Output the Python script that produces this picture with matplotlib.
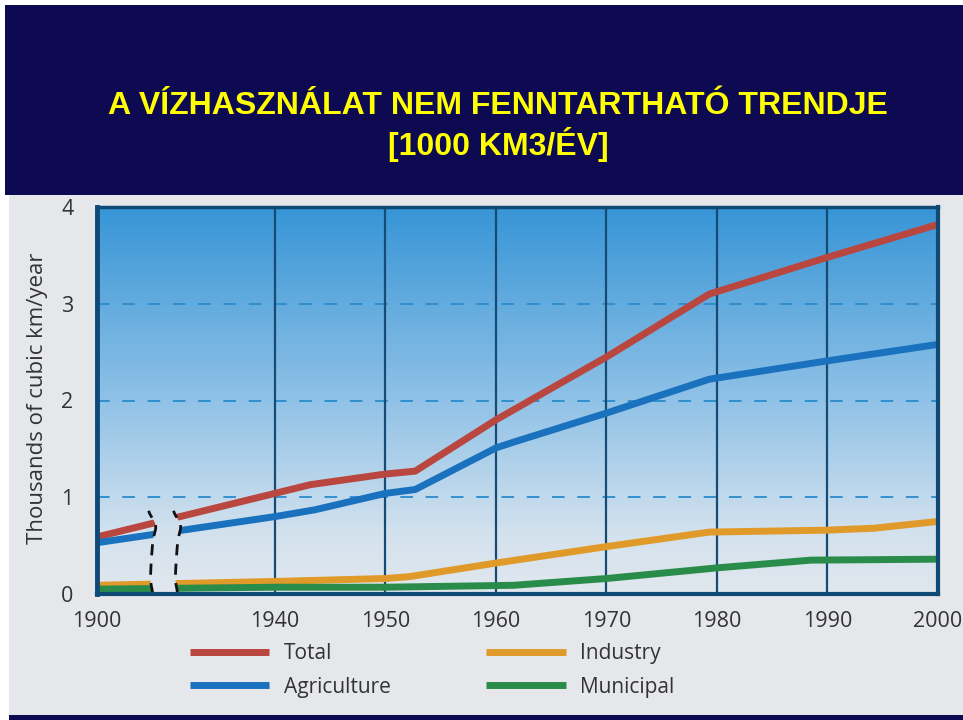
import numpy as np
import matplotlib
matplotlib.use("Agg")
import matplotlib.pyplot as plt
from matplotlib.patches import Rectangle, Polygon
from matplotlib.colors import LinearSegmentedColormap

# ---------------- data ----------------
title_lines = ["A VÍZHASZNÁLAT NEM FENNTARTHATÓ TRENDJE", "[1000 KM3/ÉV]"]
ylabel = "Thousands of cubic km/year"
xtick_years = [1900, 1940, 1950, 1960, 1970, 1980, 1990, 2000]
ytick_vals = [0, 1, 2, 3, 4]
series_names = ["Total", "Agriculture", "Industry", "Municipal"]

total_years = [1900, 1940, 1943.2, 1950, 1952.7, 1960, 1970, 1979.3, 1990, 2000]
total_vals = [0.59, 1.04, 1.13, 1.24, 1.27, 1.80, 2.45, 3.10, 3.48, 3.82]

agri_years = [1900, 1940, 1943.6, 1950, 1952.7, 1960, 1961.6, 1970, 1979.3, 1990, 2000]
agri_vals = [0.53, 0.80, 0.87, 1.04, 1.08, 1.51, 1.57, 1.87, 2.22, 2.41, 2.58]

ind_years = [1900, 1940, 1950, 1952.2, 1960, 1970, 1979.3, 1990, 1994.2, 2000]
ind_vals = [0.09, 0.13, 0.16, 0.18, 0.32, 0.49, 0.64, 0.66, 0.68, 0.75]

mun_years = [1900, 1940, 1950, 1961.6, 1970, 1980, 1988.5, 2000]
mun_vals = [0.05, 0.07, 0.07, 0.09, 0.16, 0.27, 0.35, 0.36]

colors = {"Total": "#b9463f", "Agriculture": "#1a72bf",
          "Industry": "#e09a2a", "Municipal": "#2a8c4a"}

# ---------------- broken x scale ----------------
P = 1.61  # width of the compressed 1900-1940 section, in decade units


def fwd(x):
    x = np.asarray(x, dtype=float)
    return np.where(x < 1940, (x - 1900) / 40.0 * P, P + (x - 1940) / 10.0)


def inv(u):
    u = np.asarray(u, dtype=float)
    return np.where(u < P, 1900 + u / P * 40.0, 1940 + (u - P) * 10.0)


fig = plt.figure(figsize=(9.63, 7.2), dpi=100)
fig.patch.set_facecolor("white")

W, H = 963.0, 720.0
# scanned page background
fig.add_artist(Rectangle((9 / W, 0), 1 - 9 / W, 1 - 195 / H, transform=fig.transFigure,
                         facecolor="#e5e7eb", edgecolor="none", zorder=0))
# bottom navy strip
fig.add_artist(Rectangle((9 / W, 0), 1 - 9 / W, 5 / H, transform=fig.transFigure,
                         facecolor="#0d0a52", edgecolor="none", zorder=1))
# header
fig.add_artist(Rectangle((5 / W, 1 - 195 / H), 1 - 5 / W, 190 / H, transform=fig.transFigure,
                         facecolor="#0d0a52", edgecolor="none", zorder=1))
fig.text(0.517, 1 - 106 / H, title_lines[0], ha="center", va="center", color="#ffff00",
         fontsize=23, fontweight="bold", family="Liberation Sans", zorder=2)
fig.text(0.517, 1 - 145 / H, title_lines[1], ha="center", va="center", color="#ffff00",
         fontsize=23, fontweight="bold", family="Liberation Sans", zorder=2)

ax = fig.add_axes([97 / W, 1 - 594 / H, (938 - 97) / W, (594 - 207) / H])
ax.set_zorder(3)
ax.set_xscale("function", functions=(fwd, inv))

# gradient background
cmap = LinearSegmentedColormap.from_list(
    "bg", [(0.0, "#e1e7ed"), (0.15, "#d4e2ee"), (0.5, "#90c2e7"), (1.0, "#3795d6")])
grad = np.linspace(0, 1, 256).reshape(-1, 1)
ax.imshow(grad, cmap=cmap, extent=[0, 1, 0, 1], transform=ax.transAxes,
          aspect="auto", origin="lower", zorder=0, interpolation="bilinear")

# grid
for yv in ytick_vals[1:-1]:
    ax.axhline(yv, color="#2a8bcc", lw=1.3, dashes=(7, 7), zorder=1)
for xv in xtick_years[1:-1]:
    ax.axvline(xv, color="#154b75", lw=1.6, zorder=1)

# series
for name, yrs, vals in [("Total", total_years, total_vals),
                        ("Agriculture", agri_years, agri_vals),
                        ("Industry", ind_years, ind_vals),
                        ("Municipal", mun_years, mun_vals)]:
    ax.plot(yrs, vals, color=colors[name], lw=5, solid_capstyle="butt",
            solid_joinstyle="round", label=name, zorder=3)

# axis break
yb = np.linspace(0, 0.86, 60)
ctrl_y = [0.0, 0.14, 0.35, 0.56, 0.71, 0.86]
ctrl_off = [0.07, -0.52, -0.30, 0.07, 0.90, -1.06]
off = np.interp(yb, ctrl_y, ctrl_off)
kern = np.ones(7) / 7
off_s = np.convolve(np.pad(off, 3, mode="edge"), kern, mode="valid")
left_x = 1912.5 + off_s
right_x = 1918.1 + off_s
poly_pts = np.column_stack([np.concatenate([left_x, right_x[::-1]]),
                            np.concatenate([yb, yb[::-1]])])
gap = Polygon(poly_pts, closed=True, transform=ax.transData, facecolor="none", edgecolor="none")
ax.add_patch(gap)
im2 = ax.imshow(grad, cmap=cmap, extent=[0, 1, 0, 1], transform=ax.transAxes,
                aspect="auto", origin="lower", zorder=4, interpolation="bilinear")
im2.set_clip_path(gap)
ax.plot(left_x, yb, color="#111111", lw=2, dashes=(4, 3), zorder=5)
ax.plot(right_x, yb, color="#111111", lw=2, dashes=(4, 3), zorder=5)

ax.set_xlim(1900, 2000)
ax.set_ylim(0, 4)
ax.set_xticks(xtick_years)
ax.set_xticklabels([str(y) for y in xtick_years])
ax.set_yticks(ytick_vals)
ax.set_yticklabels([str(v) for v in ytick_vals])
ax.tick_params(length=0, labelsize=15.5, labelcolor="#333333")
ax.tick_params(axis="x", pad=12)
ax.tick_params(axis="y", pad=17)
for lab in ax.get_xticklabels() + ax.get_yticklabels():
    lab.set_family("Open Sans")

ax.set_ylabel(ylabel, fontsize=16, color="#333333", family="Open Sans")
ax.yaxis.set_label_coords(-0.058, 0.505)

for side, lw in [("left", 3.5), ("bottom", 3), ("top", 2.5), ("right", 3)]:
    ax.spines[side].set_color("#0f4a77")
    ax.spines[side].set_linewidth(lw)
    ax.spines[side].set_zorder(6)

handles, labels = ax.get_legend_handles_labels()
leg = fig.legend(handles, labels, ncol=2, loc="upper left",
                 bbox_to_anchor=(190 / W, 1 - 643 / H), frameon=False,
                 handlelength=3.8, handletextpad=0.7,
                 columnspacing=4.6, labelspacing=0.6, borderpad=0, borderaxespad=0,
                 prop={"family": "Open Sans", "size": 15})
for t in leg.get_texts():
    t.set_color("#333333")
for l in leg.get_lines():
    l.set_linewidth(5)

fig.savefig("out.png", dpi=100)
